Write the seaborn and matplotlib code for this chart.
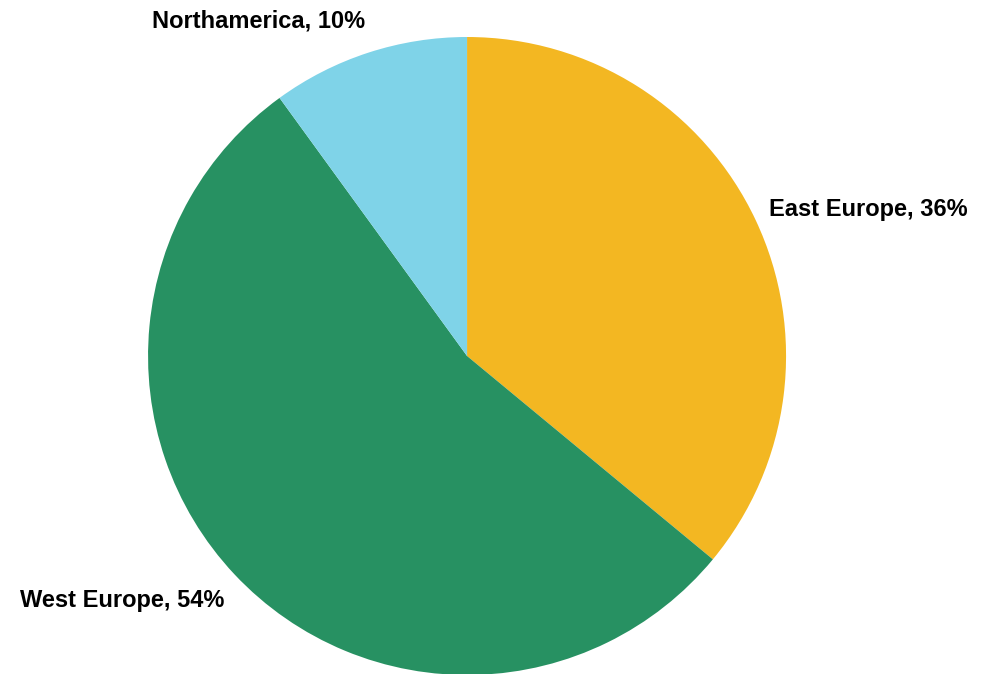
import matplotlib
matplotlib.use("Agg")
import matplotlib.pyplot as plt
import numpy as np
import seaborn as sns

sns.set_theme(style="white")
plt.rcParams["font.family"] = ["Liberation Sans", "DejaVu Sans"]

regions = ["East Europe", "West Europe", "Northamerica"]
shares = [36, 54, 10]
colors = ["#F3B722", "#279162", "#7FD3E8"]

labels = [f"{r}, {s}%" for r, s in zip(regions, shares)]

fig = plt.figure(figsize=(9.81, 6.74), dpi=100)
ax = fig.add_axes([0.1509, -0.0015, 0.6504, 0.9466])
wedges, texts = ax.pie(
    shares,
    labels=labels,
    colors=colors,
    startangle=90,
    counterclock=False,
    labeldistance=1.07,
    wedgeprops=dict(linewidth=0),
    textprops=dict(fontsize=17, fontweight="bold", color="#000000"),
)

# place each label just outside its wedge: (radial distance, angular nudge in degrees)
label_place = [(1.053, 0.7), (1.08, 2.0), (1.098, -1.1)]
for w, t, (d, nudge) in zip(wedges, texts, label_place):
    mid = np.deg2rad((w.theta1 + w.theta2) / 2 + nudge)
    t.set_position((d * np.cos(mid), d * np.sin(mid)))

ax.set_xlim(-1, 1)
ax.set_ylim(-1, 1)
ax.set_aspect("equal")
ax.axis("off")

fig.savefig("out.png", dpi=100, facecolor="white")
